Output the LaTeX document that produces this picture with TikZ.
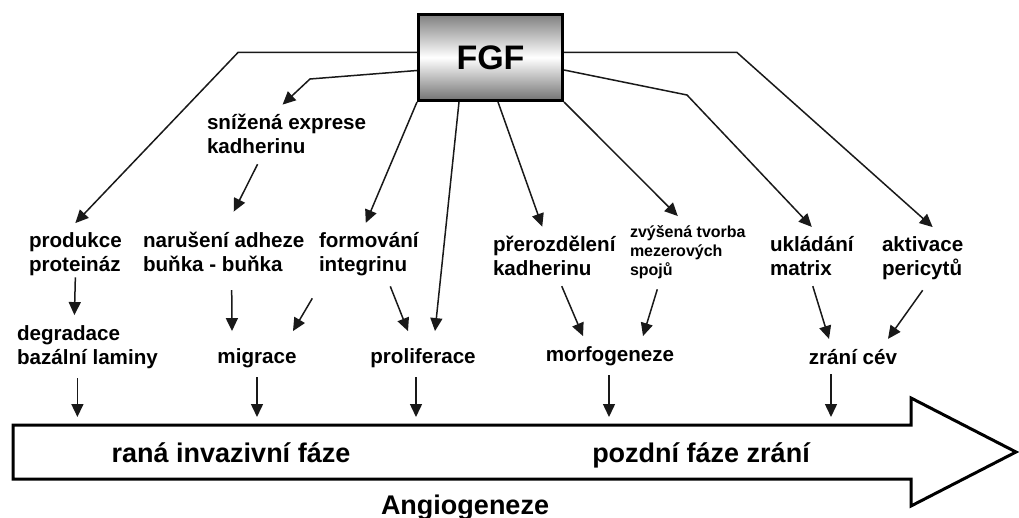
\documentclass[tikz,border=0pt]{standalone}
\usepackage{fontspec}
\setmainfont{Liberation Sans}
\usetikzlibrary{arrows.meta}

\begin{document}
\begin{tikzpicture}[x=1pt,y=-1pt] % souradnice jako pixely obrazku, y dolu
\tikzstyle{popis} = [font=\bfseries\fontsize{20.6}{24}\selectfont, align=left, inner sep=0pt, outer xsep=0pt, outer ysep=10pt] % text v diagramu
\tikzstyle{drobny} = [popis, font=\bfseries\fontsize{16}{19}\selectfont] % mensi text
\tikzstyle{faze} = [font=\bfseries\fontsize{27}{32}\selectfont, inner sep=0pt] % text na velke sipce
\tikzstyle{sipka} = [-{Triangle[length=13pt,width=12pt]}, line width=1.5pt, draw=black!90] % sipka s plnou spickou
\tikzstyle{dolu} = [sipka, shorten >=8pt] % svisla sipka na velkou sipku

\useasboundingbox (0,0) rectangle (1019,518);

\node[draw, line width=3pt, minimum width=144pt, minimum height=86pt, top color=black!50, bottom color=black!55, middle color=white, font=\bfseries\fontsize{34}{40}\selectfont] (fgf) at (490.5,57.5) {FGF};

% prvni rada (base = posledni radek)
\node[popis, anchor=base west] (snizena) at (207,154) {snížená exprese\\kadherinu};
\node[popis, anchor=base west] (produkce) at (29,272) {produkce\\proteináz};
\node[popis, anchor=base west] (naruseni) at (143,272) {narušení adheze\\buňka - buňka};
\node[popis, anchor=base west] (formovani) at (319,272) {formování\\integrinu};
\node[popis, anchor=base west] (prerozdeleni) at (493,276) {přerozdělení\\kadherinu};
\node[drobny, anchor=base west] (zvysena) at (630,276) {zvýšená tvorba\\mezerových\\spojů};
\node[popis, anchor=base west] (ukladani) at (770,276) {ukládání\\matrix};
\node[popis, anchor=base west] (aktivace) at (882,276) {aktivace\\pericytů};

% druha rada
\node[popis, anchor=base west] (degradace) at (17,364) {degradace\\bazální laminy};
\node[popis, anchor=base] (migrace) at (257,363) {migrace};
\node[popis, anchor=base] (proliferace) at (423,363) {proliferace};
\node[popis, anchor=base] (morfogeneze) at (610,361) {morfogeneze};
\node[popis, anchor=base] (zrani) at (853,364) {zrání cév};

% velka sipka
\node[minimum width=898pt, minimum height=54pt, inner sep=0pt, outer sep=0pt] (shaft) at (462,452) {};
\draw[line width=3pt, line join=miter] (shaft.north west) -- (shaft.north east) -- ++(0,-27) -- ++(105,54) -- ++(-105,54) -- ++(0,-27) -- (shaft.south west) -- cycle;
\node[faze, anchor=base] (rana) at (231,462) {raná invazivní fáze};
\node[faze, anchor=base] (pozdni) at (701,462) {pozdní fáze zrání};
\node[faze, anchor=base] (angio) at (465,514) {Angiogeneze};

% sipky z FGF
\draw[sipka] ([yshift=5pt]fgf.west) -- ++(-179,0) -- (produkce.north);
\draw[sipka] ([yshift=-13pt]fgf.west) -- ++(-107,8.5) -- ([xshift=-4pt]snizena.north);
\draw[sipka] (fgf.south west) -- ([xshift=-3pt]formovani.north);
\draw[sipka] ([xshift=-31.5pt]fgf.south) -- ([xshift=12pt,yshift=7pt]proliferace.north);
\draw[sipka] ([xshift=7.5pt]fgf.south) -- ([xshift=-12pt]prerozdeleni.north);
\draw[sipka] (fgf.south east) -- ([xshift=-10pt]zvysena.north);
\draw[sipka] ([yshift=-12.5pt]fgf.east) -- ++(123,25) -- (ukladani.north);
\draw[sipka] ([yshift=5pt]fgf.east) -- ++(173,0) -- ([xshift=10pt]aktivace.north);

% mezi radami
\draw[sipka] ([xshift=-29pt]snizena.south) -- ([xshift=10pt,yshift=11pt]naruseni.north);
\draw[sipka] ([yshift=9pt]produkce.south) -- ([xshift=-13pt]degradace.north);
\draw[sipka] ([xshift=8pt,yshift=-8pt]naruseni.south) -- ([xshift=-25pt,yshift=7pt]migrace.north);
\draw[sipka] ([xshift=-56.5pt,yshift=-12pt]formovani.south) -- ([xshift=36pt,yshift=7pt]migrace.north);
\draw[sipka] ([xshift=21.5pt]formovani.south) -- ([xshift=-15pt,yshift=7pt]proliferace.north);
\draw[sipka] ([xshift=7.5pt]prerozdeleni.south) -- ([xshift=-27pt]morfogeneze.north);
\draw[sipka] ([xshift=-30.5pt]zvysena.south) -- ([xshift=33pt]morfogeneze.north);
\draw[sipka] ([xshift=1pt]ukladani.south) -- ([xshift=-24pt]zrani.north);
\draw[sipka] (aktivace.south) -- ([xshift=35pt]zrani.north);

% na velkou sipku
\draw[dolu] ([xshift=-10pt]degradace.south) -- ([xshift=-10pt]degradace.south |- shaft.north);
\draw[dolu] (migrace.south) -- (migrace.south |- shaft.north);
\draw[dolu] ([xshift=-7pt]proliferace.south) -- ([xshift=-7pt]proliferace.south |- shaft.north);
\draw[dolu] ([xshift=-1pt]morfogeneze.south) -- ([xshift=-1pt]morfogeneze.south |- shaft.north);
\draw[dolu] ([xshift=-22pt]zrani.south) -- ([xshift=-22pt]zrani.south |- shaft.north);
\end{tikzpicture}
\end{document}
